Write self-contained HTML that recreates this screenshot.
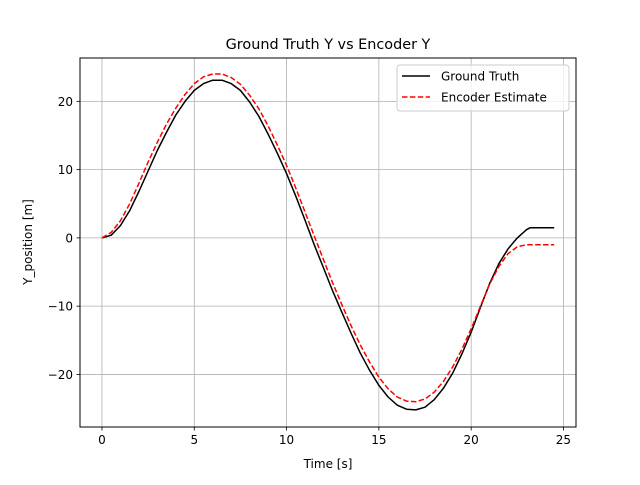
<!DOCTYPE html>
<html><head><meta charset="utf-8"><style>
body{margin:0;background:#fff}
svg{font-family:"DejaVu Sans","Liberation Sans",sans-serif}
</style></head><body>
<svg id="chart" width="640" height="480">
<rect width="640" height="480" fill="#fff"/>
<g id="grid"></g>
<g id="series"></g>
<rect x="80" y="58" width="496" height="369" fill="none" stroke="#000" stroke-width="1"/>
<g id="ticks"></g>
<text x="328" y="49" text-anchor="middle" font-size="14.4">Ground Truth Y vs Encoder Y</text>
<text x="328" y="468" text-anchor="middle" font-size="12">Time [s]</text>
<text transform="translate(32,242) rotate(-90)" text-anchor="middle" font-size="12">Y_position [m]</text>
<g>
<rect x="397" y="65" width="172" height="46" rx="3" fill="#fff" fill-opacity="0.8" stroke="#ccc"/>
<g>
<line x1="402" y1="76" x2="430" y2="76" stroke="#000" stroke-width="1.5"/>
<text x="441" y="80.5" font-size="12">Ground Truth</text></g>
<g>
<line x1="402" y1="97" x2="430" y2="97" stroke="red" stroke-width="1.5" stroke-dasharray="5.5,2.4"/>
<text x="441" y="101.5" font-size="12">Encoder Estimate</text></g>
</g>
</svg>
<script>
const xTicks=[0,5,10,15,20,25];
const yTicks=[-20,-10,0,10,20];
const yTickLabels=["\u221220","\u221210","0","10","20"];
const times=[0,0.5,1,1.5,2,2.5,3,3.5,4,4.5,5,5.5,6,6.5,7,7.5,8,8.5,9,9.5,10,10.5,11,11.5,12,12.5,13,13.5,14,14.5,15,15.5,16,16.5,17,17.5,18,18.5,19,19.5,20,20.5,21,21.5,22,22.5,23,23.2,24.5];
const groundTruth=[0,0.4,1.8,4,6.8,9.8,12.8,15.5,18,20,21.6,22.6,23.1,23.1,22.6,21.6,19.9,17.8,15.2,12.4,9.4,6.1,2.6,-1,-4.4,-7.8,-10.9,-14,-16.9,-19.4,-21.6,-23.3,-24.5,-25.1,-25.2,-24.8,-23.7,-22,-19.8,-17,-13.8,-10.2,-6.7,-3.8,-1.6,0,1.2,1.5,1.5];
const encoder=[0,0.8,2.5,5,8,11.1,14,16.7,19,21,22.6,23.6,24,24,23.5,22.5,20.9,18.9,16.4,13.6,10.6,7.3,3.8,0.3,-3.2,-6.6,-9.8,-12.9,-15.7,-18.2,-20.4,-22.1,-23.3,-23.9,-24,-23.6,-22.6,-21,-18.9,-16.3,-13.3,-10,-6.8,-4.2,-2.3,-1.3,-1,-1,-1];
const X0=80,X1=576,Y0=58,Y1=427,xmin=-1.19,xmax=25.68,ymin=-27.7,ymax=26.35;
const sx=v=>X0+(v-xmin)/(xmax-xmin)*(X1-X0);
const sy=v=>Y1-(v-ymin)/(ymax-ymin)*(Y1-Y0);
const NS="http://www.w3.org/2000/svg";
function mk(tag,attrs,parent){const e=document.createElementNS(NS,tag);for(const k in attrs)e.setAttribute(k,attrs[k]);document.getElementById(parent).appendChild(e);return e;}
xTicks.forEach(t=>{const x=sx(t);
 const g=mk('line',{x1:x,x2:x,y1:Y0,y2:Y1,stroke:'#b0b0b0','stroke-width':0.8},'grid');
 
 
 const tk=mk('line',{x1:x,x2:x,y1:Y1,y2:Y1+3.5,stroke:'#000','stroke-width':0.8},'ticks');
 
 
 const tl=mk('text',{x:x,y:Y1+17,'text-anchor':'middle','font-size':12},'ticks');tl.textContent=t;
 
 
});
yTicks.forEach((t,i)=>{const y=sy(t);
 const g=mk('line',{x1:X0,x2:X1,y1:y,y2:y,stroke:'#b0b0b0','stroke-width':0.8},'grid');
 
 
 const tk=mk('line',{x1:X0-3.5,x2:X0,y1:y,y2:y,stroke:'#000','stroke-width':0.8},'ticks');
 
 
 const tl=mk('text',{x:X0-7,y:y+4.5,'text-anchor':'end','font-size':12},'ticks');tl.textContent=yTickLabels[i];
 
 
});
function pts(arr){return times.map((t,i)=>sx(t).toFixed(1)+','+sy(arr[i]).toFixed(1)).join(' ');}
const l1=mk('polyline',{points:pts(groundTruth),fill:'none',stroke:'#000','stroke-width':1.5,'stroke-linejoin':'round'},'series');


const l2=mk('polyline',{points:pts(encoder),fill:'none',stroke:'red','stroke-width':1.5,'stroke-dasharray':'5.5,2.4'},'series');


</script>
</body></html>
